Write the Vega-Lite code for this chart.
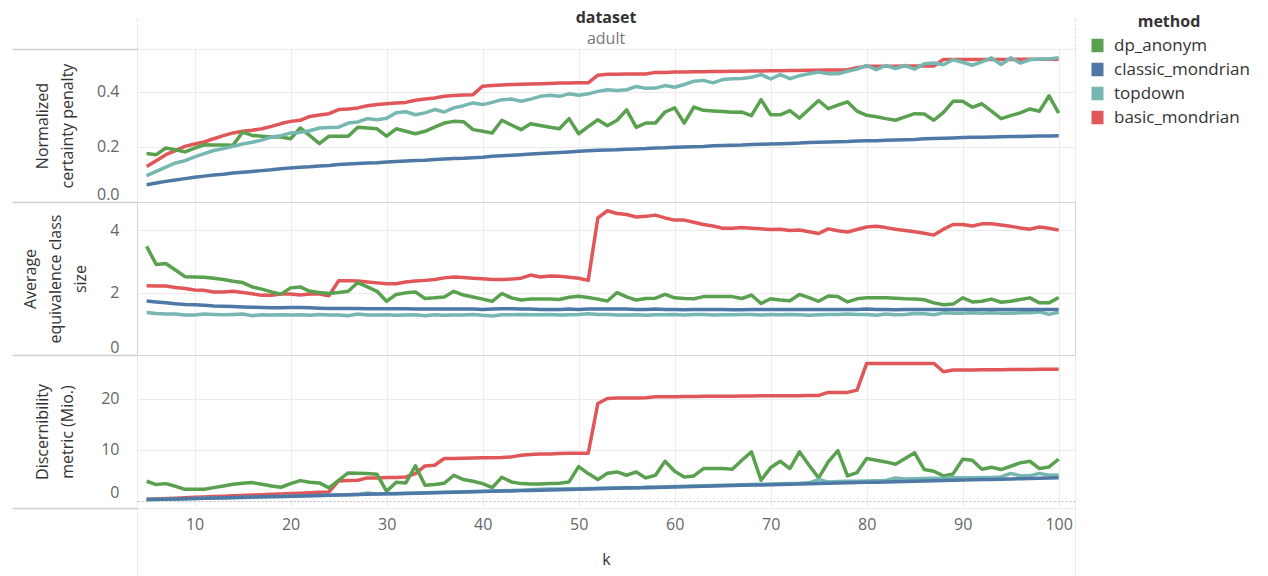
{
  "$schema": "https://vega.github.io/schema/vega-lite/v6.json",
  "padding": {"left": 10, "top": 9, "right": 5, "bottom": 0},
  "bounds": "flush",
  "config": {
    "font": "Open Sans",
    "view": {"stroke": "#d4d4d4", "strokeWidth": 1},
    "axis": {"labelFontSize": 16, "labelColor": "#666666", "titleFontSize": 16, "titleFontWeight": "normal", "titleColor": "#333333", "gridColor": "#ececec", "domain": false},
    "line": {"strokeWidth": 3.5, "strokeJoin": "round"}
  },
  "spacing": 0,
  "data": {"values": [
    {"k":5,"method":"basic_mondrian","ncp":0.129,"aec":2.22,"dm":0.33},
    {"k":6,"method":"basic_mondrian","ncp":0.150,"aec":2.21,"dm":0.40},
    {"k":7,"method":"basic_mondrian","ncp":0.172,"aec":2.21,"dm":0.48},
    {"k":8,"method":"basic_mondrian","ncp":0.187,"aec":2.16,"dm":0.55},
    {"k":9,"method":"basic_mondrian","ncp":0.202,"aec":2.13,"dm":0.63},
    {"k":10,"method":"basic_mondrian","ncp":0.211,"aec":2.08,"dm":0.71},
    {"k":11,"method":"basic_mondrian","ncp":0.218,"aec":2.07,"dm":0.78},
    {"k":12,"method":"basic_mondrian","ncp":0.230,"aec":2.02,"dm":0.86},
    {"k":13,"method":"basic_mondrian","ncp":0.241,"aec":2.02,"dm":0.93},
    {"k":14,"method":"basic_mondrian","ncp":0.251,"aec":2.04,"dm":1.01},
    {"k":15,"method":"basic_mondrian","ncp":0.257,"aec":2.00,"dm":1.08},
    {"k":16,"method":"basic_mondrian","ncp":0.261,"aec":1.96,"dm":1.16},
    {"k":17,"method":"basic_mondrian","ncp":0.266,"aec":1.91,"dm":1.23},
    {"k":18,"method":"basic_mondrian","ncp":0.275,"aec":1.91,"dm":1.31},
    {"k":19,"method":"basic_mondrian","ncp":0.285,"aec":1.95,"dm":1.39},
    {"k":20,"method":"basic_mondrian","ncp":0.293,"aec":1.95,"dm":1.46},
    {"k":21,"method":"basic_mondrian","ncp":0.297,"aec":1.92,"dm":1.54},
    {"k":22,"method":"basic_mondrian","ncp":0.311,"aec":1.95,"dm":1.62},
    {"k":23,"method":"basic_mondrian","ncp":0.316,"aec":1.95,"dm":1.69},
    {"k":24,"method":"basic_mondrian","ncp":0.321,"aec":1.90,"dm":1.77},
    {"k":25,"method":"basic_mondrian","ncp":0.336,"aec":2.38,"dm":3.93},
    {"k":26,"method":"basic_mondrian","ncp":0.338,"aec":2.38,"dm":4.00},
    {"k":27,"method":"basic_mondrian","ncp":0.342,"aec":2.37,"dm":4.06},
    {"k":28,"method":"basic_mondrian","ncp":0.350,"aec":2.34,"dm":4.52},
    {"k":29,"method":"basic_mondrian","ncp":0.354,"aec":2.31,"dm":4.52},
    {"k":30,"method":"basic_mondrian","ncp":0.357,"aec":2.28,"dm":4.58},
    {"k":31,"method":"basic_mondrian","ncp":0.360,"aec":2.28,"dm":4.58},
    {"k":32,"method":"basic_mondrian","ncp":0.362,"aec":2.34,"dm":4.71},
    {"k":33,"method":"basic_mondrian","ncp":0.370,"aec":2.37,"dm":5.36},
    {"k":34,"method":"basic_mondrian","ncp":0.374,"aec":2.39,"dm":6.87},
    {"k":35,"method":"basic_mondrian","ncp":0.378,"aec":2.42,"dm":7.00},
    {"k":36,"method":"basic_mondrian","ncp":0.384,"aec":2.47,"dm":8.31},
    {"k":37,"method":"basic_mondrian","ncp":0.387,"aec":2.50,"dm":8.33},
    {"k":38,"method":"basic_mondrian","ncp":0.389,"aec":2.48,"dm":8.37},
    {"k":39,"method":"basic_mondrian","ncp":0.390,"aec":2.46,"dm":8.40},
    {"k":40,"method":"basic_mondrian","ncp":0.421,"aec":2.44,"dm":8.44},
    {"k":41,"method":"basic_mondrian","ncp":0.423,"aec":2.42,"dm":8.48},
    {"k":42,"method":"basic_mondrian","ncp":0.425,"aec":2.42,"dm":8.52},
    {"k":43,"method":"basic_mondrian","ncp":0.427,"aec":2.43,"dm":8.63},
    {"k":44,"method":"basic_mondrian","ncp":0.428,"aec":2.46,"dm":8.96},
    {"k":45,"method":"basic_mondrian","ncp":0.429,"aec":2.56,"dm":9.09},
    {"k":46,"method":"basic_mondrian","ncp":0.430,"aec":2.50,"dm":9.22},
    {"k":47,"method":"basic_mondrian","ncp":0.431,"aec":2.53,"dm":9.22},
    {"k":48,"method":"basic_mondrian","ncp":0.432,"aec":2.52,"dm":9.30},
    {"k":49,"method":"basic_mondrian","ncp":0.432,"aec":2.49,"dm":9.35},
    {"k":50,"method":"basic_mondrian","ncp":0.433,"aec":2.46,"dm":9.35},
    {"k":51,"method":"basic_mondrian","ncp":0.433,"aec":2.39,"dm":9.35},
    {"k":52,"method":"basic_mondrian","ncp":0.461,"aec":4.39,"dm":19.08},
    {"k":53,"method":"basic_mondrian","ncp":0.464,"aec":4.62,"dm":20.07},
    {"k":54,"method":"basic_mondrian","ncp":0.464,"aec":4.53,"dm":20.15},
    {"k":55,"method":"basic_mondrian","ncp":0.465,"aec":4.50,"dm":20.15},
    {"k":56,"method":"basic_mondrian","ncp":0.465,"aec":4.42,"dm":20.15},
    {"k":57,"method":"basic_mondrian","ncp":0.465,"aec":4.44,"dm":20.20},
    {"k":58,"method":"basic_mondrian","ncp":0.471,"aec":4.48,"dm":20.40},
    {"k":59,"method":"basic_mondrian","ncp":0.471,"aec":4.39,"dm":20.40},
    {"k":60,"method":"basic_mondrian","ncp":0.472,"aec":4.32,"dm":20.42},
    {"k":61,"method":"basic_mondrian","ncp":0.472,"aec":4.32,"dm":20.44},
    {"k":62,"method":"basic_mondrian","ncp":0.473,"aec":4.25,"dm":20.46},
    {"k":63,"method":"basic_mondrian","ncp":0.473,"aec":4.18,"dm":20.48},
    {"k":64,"method":"basic_mondrian","ncp":0.474,"aec":4.13,"dm":20.50},
    {"k":65,"method":"basic_mondrian","ncp":0.474,"aec":4.06,"dm":20.50},
    {"k":66,"method":"basic_mondrian","ncp":0.475,"aec":4.06,"dm":20.52},
    {"k":67,"method":"basic_mondrian","ncp":0.475,"aec":4.08,"dm":20.54},
    {"k":68,"method":"basic_mondrian","ncp":0.476,"aec":4.06,"dm":20.56},
    {"k":69,"method":"basic_mondrian","ncp":0.476,"aec":4.04,"dm":20.58},
    {"k":70,"method":"basic_mondrian","ncp":0.477,"aec":4.02,"dm":20.60},
    {"k":71,"method":"basic_mondrian","ncp":0.477,"aec":4.03,"dm":20.60},
    {"k":72,"method":"basic_mondrian","ncp":0.478,"aec":3.99,"dm":20.62},
    {"k":73,"method":"basic_mondrian","ncp":0.478,"aec":4.00,"dm":20.62},
    {"k":74,"method":"basic_mondrian","ncp":0.479,"aec":3.95,"dm":20.64},
    {"k":75,"method":"basic_mondrian","ncp":0.479,"aec":3.89,"dm":20.66},
    {"k":76,"method":"basic_mondrian","ncp":0.480,"aec":4.04,"dm":21.25},
    {"k":77,"method":"basic_mondrian","ncp":0.480,"aec":3.98,"dm":21.25},
    {"k":78,"method":"basic_mondrian","ncp":0.481,"aec":3.94,"dm":21.25},
    {"k":79,"method":"basic_mondrian","ncp":0.488,"aec":4.02,"dm":21.70},
    {"k":80,"method":"basic_mondrian","ncp":0.493,"aec":4.10,"dm":26.93},
    {"k":81,"method":"basic_mondrian","ncp":0.493,"aec":4.12,"dm":26.93},
    {"k":82,"method":"basic_mondrian","ncp":0.493,"aec":4.08,"dm":26.93},
    {"k":83,"method":"basic_mondrian","ncp":0.493,"aec":4.03,"dm":26.93},
    {"k":84,"method":"basic_mondrian","ncp":0.494,"aec":3.99,"dm":26.93},
    {"k":85,"method":"basic_mondrian","ncp":0.494,"aec":3.95,"dm":26.93},
    {"k":86,"method":"basic_mondrian","ncp":0.494,"aec":3.90,"dm":26.93},
    {"k":87,"method":"basic_mondrian","ncp":0.494,"aec":3.84,"dm":26.93},
    {"k":88,"method":"basic_mondrian","ncp":0.518,"aec":4.03,"dm":25.30},
    {"k":89,"method":"basic_mondrian","ncp":0.518,"aec":4.18,"dm":25.62},
    {"k":90,"method":"basic_mondrian","ncp":0.518,"aec":4.18,"dm":25.64},
    {"k":91,"method":"basic_mondrian","ncp":0.518,"aec":4.13,"dm":25.64},
    {"k":92,"method":"basic_mondrian","ncp":0.518,"aec":4.20,"dm":25.68},
    {"k":93,"method":"basic_mondrian","ncp":0.518,"aec":4.20,"dm":25.70},
    {"k":94,"method":"basic_mondrian","ncp":0.518,"aec":4.16,"dm":25.70},
    {"k":95,"method":"basic_mondrian","ncp":0.518,"aec":4.12,"dm":25.72},
    {"k":96,"method":"basic_mondrian","ncp":0.519,"aec":4.07,"dm":25.72},
    {"k":97,"method":"basic_mondrian","ncp":0.519,"aec":4.03,"dm":25.74},
    {"k":98,"method":"basic_mondrian","ncp":0.519,"aec":4.10,"dm":25.76},
    {"k":99,"method":"basic_mondrian","ncp":0.519,"aec":4.06,"dm":25.76},
    {"k":100,"method":"basic_mondrian","ncp":0.519,"aec":4.00,"dm":25.76},

    {"k":5,"method":"dp_anonym","ncp":0.176,"aec":3.48,"dm":3.86},
    {"k":6,"method":"dp_anonym","ncp":0.172,"aec":2.90,"dm":3.21},
    {"k":7,"method":"dp_anonym","ncp":0.196,"aec":2.93,"dm":3.40},
    {"k":8,"method":"dp_anonym","ncp":0.190,"aec":2.72,"dm":2.88},
    {"k":9,"method":"dp_anonym","ncp":0.182,"aec":2.51,"dm":2.29},
    {"k":10,"method":"dp_anonym","ncp":0.196,"aec":2.50,"dm":2.29},
    {"k":11,"method":"dp_anonym","ncp":0.208,"aec":2.49,"dm":2.29},
    {"k":12,"method":"dp_anonym","ncp":0.207,"aec":2.46,"dm":2.62},
    {"k":13,"method":"dp_anonym","ncp":0.207,"aec":2.42,"dm":2.95},
    {"k":14,"method":"dp_anonym","ncp":0.206,"aec":2.36,"dm":3.27},
    {"k":15,"method":"dp_anonym","ncp":0.254,"aec":2.32,"dm":3.47},
    {"k":16,"method":"dp_anonym","ncp":0.242,"aec":2.18,"dm":3.60},
    {"k":17,"method":"dp_anonym","ncp":0.239,"aec":2.11,"dm":3.27},
    {"k":18,"method":"dp_anonym","ncp":0.236,"aec":2.02,"dm":2.95},
    {"k":19,"method":"dp_anonym","ncp":0.236,"aec":1.95,"dm":2.69},
    {"k":20,"method":"dp_anonym","ncp":0.230,"aec":2.15,"dm":3.40},
    {"k":21,"method":"dp_anonym","ncp":0.269,"aec":2.18,"dm":3.99},
    {"k":22,"method":"dp_anonym","ncp":0.241,"aec":2.04,"dm":3.67},
    {"k":23,"method":"dp_anonym","ncp":0.212,"aec":2.00,"dm":3.54},
    {"k":24,"method":"dp_anonym","ncp":0.239,"aec":1.97,"dm":2.56},
    {"k":25,"method":"dp_anonym","ncp":0.239,"aec":2.00,"dm":4.06},
    {"k":26,"method":"dp_anonym","ncp":0.239,"aec":2.04,"dm":5.50},
    {"k":27,"method":"dp_anonym","ncp":0.272,"aec":2.32,"dm":5.43},
    {"k":28,"method":"dp_anonym","ncp":0.269,"aec":2.18,"dm":5.36},
    {"k":29,"method":"dp_anonym","ncp":0.266,"aec":2.04,"dm":5.23},
    {"k":30,"method":"dp_anonym","ncp":0.239,"aec":1.72,"dm":1.90},
    {"k":31,"method":"dp_anonym","ncp":0.266,"aec":1.94,"dm":3.67},
    {"k":32,"method":"dp_anonym","ncp":0.257,"aec":1.99,"dm":3.54},
    {"k":33,"method":"dp_anonym","ncp":0.248,"aec":2.02,"dm":6.87},
    {"k":34,"method":"dp_anonym","ncp":0.257,"aec":1.81,"dm":3.08},
    {"k":35,"method":"dp_anonym","ncp":0.272,"aec":1.83,"dm":3.21},
    {"k":36,"method":"dp_anonym","ncp":0.287,"aec":1.86,"dm":3.47},
    {"k":37,"method":"dp_anonym","ncp":0.293,"aec":2.04,"dm":5.04},
    {"k":38,"method":"dp_anonym","ncp":0.292,"aec":1.92,"dm":4.19},
    {"k":39,"method":"dp_anonym","ncp":0.263,"aec":1.86,"dm":3.86},
    {"k":40,"method":"dp_anonym","ncp":0.257,"aec":1.79,"dm":3.40},
    {"k":41,"method":"dp_anonym","ncp":0.251,"aec":1.72,"dm":2.62},
    {"k":42,"method":"dp_anonym","ncp":0.297,"aec":1.97,"dm":4.65},
    {"k":43,"method":"dp_anonym","ncp":0.280,"aec":1.83,"dm":3.73},
    {"k":44,"method":"dp_anonym","ncp":0.263,"aec":1.76,"dm":3.40},
    {"k":45,"method":"dp_anonym","ncp":0.284,"aec":1.79,"dm":3.34},
    {"k":46,"method":"dp_anonym","ncp":0.278,"aec":1.79,"dm":3.34},
    {"k":47,"method":"dp_anonym","ncp":0.272,"aec":1.79,"dm":3.40},
    {"k":48,"method":"dp_anonym","ncp":0.266,"aec":1.78,"dm":3.47},
    {"k":49,"method":"dp_anonym","ncp":0.303,"aec":1.85,"dm":3.73},
    {"k":50,"method":"dp_anonym","ncp":0.248,"aec":1.88,"dm":6.74},
    {"k":51,"method":"dp_anonym","ncp":0.274,"aec":1.84,"dm":5.36},
    {"k":52,"method":"dp_anonym","ncp":0.299,"aec":1.79,"dm":4.19},
    {"k":53,"method":"dp_anonym","ncp":0.277,"aec":1.73,"dm":5.43},
    {"k":54,"method":"dp_anonym","ncp":0.297,"aec":2.00,"dm":5.69},
    {"k":55,"method":"dp_anonym","ncp":0.335,"aec":1.86,"dm":5.04},
    {"k":56,"method":"dp_anonym","ncp":0.271,"aec":1.76,"dm":5.69},
    {"k":57,"method":"dp_anonym","ncp":0.287,"aec":1.81,"dm":4.52},
    {"k":58,"method":"dp_anonym","ncp":0.287,"aec":1.82,"dm":5.04},
    {"k":59,"method":"dp_anonym","ncp":0.327,"aec":1.94,"dm":7.78},
    {"k":60,"method":"dp_anonym","ncp":0.342,"aec":1.83,"dm":5.82},
    {"k":61,"method":"dp_anonym","ncp":0.287,"aec":1.81,"dm":4.71},
    {"k":62,"method":"dp_anonym","ncp":0.345,"aec":1.80,"dm":4.91},
    {"k":63,"method":"dp_anonym","ncp":0.333,"aec":1.87,"dm":6.35},
    {"k":64,"method":"dp_anonym","ncp":0.331,"aec":1.87,"dm":6.35},
    {"k":65,"method":"dp_anonym","ncp":0.329,"aec":1.87,"dm":6.35},
    {"k":66,"method":"dp_anonym","ncp":0.326,"aec":1.87,"dm":6.22},
    {"k":67,"method":"dp_anonym","ncp":0.327,"aec":1.81,"dm":7.98},
    {"k":68,"method":"dp_anonym","ncp":0.314,"aec":1.92,"dm":9.61},
    {"k":69,"method":"dp_anonym","ncp":0.372,"aec":1.65,"dm":4.06},
    {"k":70,"method":"dp_anonym","ncp":0.317,"aec":1.80,"dm":6.54},
    {"k":71,"method":"dp_anonym","ncp":0.317,"aec":1.76,"dm":7.78},
    {"k":72,"method":"dp_anonym","ncp":0.332,"aec":1.74,"dm":6.35},
    {"k":73,"method":"dp_anonym","ncp":0.305,"aec":1.94,"dm":9.61},
    {"k":74,"method":"dp_anonym","ncp":0.337,"aec":1.84,"dm":7.00},
    {"k":75,"method":"dp_anonym","ncp":0.369,"aec":1.72,"dm":4.52},
    {"k":76,"method":"dp_anonym","ncp":0.339,"aec":1.89,"dm":7.65},
    {"k":77,"method":"dp_anonym","ncp":0.352,"aec":1.87,"dm":9.87},
    {"k":78,"method":"dp_anonym","ncp":0.364,"aec":1.70,"dm":4.91},
    {"k":79,"method":"dp_anonym","ncp":0.330,"aec":1.80,"dm":5.56},
    {"k":80,"method":"dp_anonym","ncp":0.315,"aec":1.83,"dm":8.31},
    {"k":81,"method":"dp_anonym","ncp":0.310,"aec":1.83,"dm":7.98},
    {"k":82,"method":"dp_anonym","ncp":0.303,"aec":1.83,"dm":7.65},
    {"k":83,"method":"dp_anonym","ncp":0.297,"aec":1.82,"dm":7.19},
    {"k":84,"method":"dp_anonym","ncp":0.309,"aec":1.80,"dm":8.31},
    {"k":85,"method":"dp_anonym","ncp":0.321,"aec":1.79,"dm":9.42},
    {"k":86,"method":"dp_anonym","ncp":0.320,"aec":1.77,"dm":6.15},
    {"k":87,"method":"dp_anonym","ncp":0.297,"aec":1.67,"dm":5.82},
    {"k":88,"method":"dp_anonym","ncp":0.326,"aec":1.61,"dm":4.91},
    {"k":89,"method":"dp_anonym","ncp":0.366,"aec":1.63,"dm":5.30},
    {"k":90,"method":"dp_anonym","ncp":0.366,"aec":1.83,"dm":8.18},
    {"k":91,"method":"dp_anonym","ncp":0.344,"aec":1.70,"dm":7.98},
    {"k":92,"method":"dp_anonym","ncp":0.357,"aec":1.72,"dm":6.22},
    {"k":93,"method":"dp_anonym","ncp":0.330,"aec":1.79,"dm":6.61},
    {"k":94,"method":"dp_anonym","ncp":0.303,"aec":1.69,"dm":6.15},
    {"k":95,"method":"dp_anonym","ncp":0.314,"aec":1.72,"dm":6.80},
    {"k":96,"method":"dp_anonym","ncp":0.324,"aec":1.78,"dm":7.46},
    {"k":97,"method":"dp_anonym","ncp":0.338,"aec":1.83,"dm":7.78},
    {"k":98,"method":"dp_anonym","ncp":0.330,"aec":1.67,"dm":6.35},
    {"k":99,"method":"dp_anonym","ncp":0.386,"aec":1.67,"dm":6.67},
    {"k":100,"method":"dp_anonym","ncp":0.323,"aec":1.84,"dm":8.18},

    {"k":5,"method":"topdown","ncp":0.096,"aec":1.36,"dm":0.25},
    {"k":6,"method":"topdown","ncp":0.111,"aec":1.33,"dm":0.30},
    {"k":7,"method":"topdown","ncp":0.127,"aec":1.31,"dm":0.34},
    {"k":8,"method":"topdown","ncp":0.142,"aec":1.31,"dm":0.39},
    {"k":9,"method":"topdown","ncp":0.150,"aec":1.28,"dm":0.43},
    {"k":10,"method":"topdown","ncp":0.164,"aec":1.28,"dm":0.48},
    {"k":11,"method":"topdown","ncp":0.176,"aec":1.31,"dm":0.52},
    {"k":12,"method":"topdown","ncp":0.187,"aec":1.30,"dm":0.57},
    {"k":13,"method":"topdown","ncp":0.194,"aec":1.29,"dm":0.61},
    {"k":14,"method":"topdown","ncp":0.202,"aec":1.30,"dm":0.66},
    {"k":15,"method":"topdown","ncp":0.211,"aec":1.31,"dm":0.70},
    {"k":16,"method":"topdown","ncp":0.217,"aec":1.26,"dm":0.75},
    {"k":17,"method":"topdown","ncp":0.225,"aec":1.29,"dm":0.79},
    {"k":18,"method":"topdown","ncp":0.236,"aec":1.28,"dm":0.84},
    {"k":19,"method":"topdown","ncp":0.241,"aec":1.29,"dm":0.88},
    {"k":20,"method":"topdown","ncp":0.251,"aec":1.28,"dm":0.93},
    {"k":21,"method":"topdown","ncp":0.253,"aec":1.29,"dm":0.97},
    {"k":22,"method":"topdown","ncp":0.259,"aec":1.27,"dm":1.02},
    {"k":23,"method":"topdown","ncp":0.269,"aec":1.30,"dm":1.06},
    {"k":24,"method":"topdown","ncp":0.271,"aec":1.28,"dm":1.11},
    {"k":25,"method":"topdown","ncp":0.272,"aec":1.28,"dm":1.15},
    {"k":26,"method":"topdown","ncp":0.287,"aec":1.26,"dm":1.20},
    {"k":27,"method":"topdown","ncp":0.291,"aec":1.31,"dm":1.25},
    {"k":28,"method":"topdown","ncp":0.303,"aec":1.28,"dm":1.55},
    {"k":29,"method":"topdown","ncp":0.299,"aec":1.28,"dm":1.38},
    {"k":30,"method":"topdown","ncp":0.304,"aec":1.29,"dm":1.42},
    {"k":31,"method":"topdown","ncp":0.324,"aec":1.27,"dm":1.47},
    {"k":32,"method":"topdown","ncp":0.328,"aec":1.28,"dm":1.52},
    {"k":33,"method":"topdown","ncp":0.317,"aec":1.29,"dm":1.57},
    {"k":34,"method":"topdown","ncp":0.324,"aec":1.26,"dm":1.62},
    {"k":35,"method":"topdown","ncp":0.336,"aec":1.29,"dm":1.66},
    {"k":36,"method":"topdown","ncp":0.327,"aec":1.27,"dm":1.71},
    {"k":37,"method":"topdown","ncp":0.342,"aec":1.28,"dm":1.76},
    {"k":38,"method":"topdown","ncp":0.350,"aec":1.28,"dm":1.81},
    {"k":39,"method":"topdown","ncp":0.360,"aec":1.30,"dm":1.85},
    {"k":40,"method":"topdown","ncp":0.354,"aec":1.27,"dm":1.90},
    {"k":41,"method":"topdown","ncp":0.362,"aec":1.25,"dm":1.94},
    {"k":42,"method":"topdown","ncp":0.372,"aec":1.29,"dm":1.99},
    {"k":43,"method":"topdown","ncp":0.374,"aec":1.29,"dm":2.04},
    {"k":44,"method":"topdown","ncp":0.366,"aec":1.30,"dm":2.10},
    {"k":45,"method":"topdown","ncp":0.374,"aec":1.29,"dm":2.20},
    {"k":46,"method":"topdown","ncp":0.384,"aec":1.29,"dm":2.30},
    {"k":47,"method":"topdown","ncp":0.388,"aec":1.30,"dm":2.33},
    {"k":48,"method":"topdown","ncp":0.384,"aec":1.28,"dm":2.36},
    {"k":49,"method":"topdown","ncp":0.393,"aec":1.29,"dm":2.38},
    {"k":50,"method":"topdown","ncp":0.388,"aec":1.30,"dm":2.42},
    {"k":51,"method":"topdown","ncp":0.393,"aec":1.32,"dm":2.45},
    {"k":52,"method":"topdown","ncp":0.402,"aec":1.30,"dm":2.50},
    {"k":53,"method":"topdown","ncp":0.408,"aec":1.30,"dm":2.54},
    {"k":54,"method":"topdown","ncp":0.405,"aec":1.28,"dm":2.58},
    {"k":55,"method":"topdown","ncp":0.408,"aec":1.28,"dm":2.62},
    {"k":56,"method":"topdown","ncp":0.420,"aec":1.29,"dm":2.52},
    {"k":57,"method":"topdown","ncp":0.413,"aec":1.27,"dm":2.72},
    {"k":58,"method":"topdown","ncp":0.414,"aec":1.29,"dm":2.76},
    {"k":59,"method":"topdown","ncp":0.423,"aec":1.29,"dm":2.80},
    {"k":60,"method":"topdown","ncp":0.417,"aec":1.30,"dm":2.85},
    {"k":61,"method":"topdown","ncp":0.427,"aec":1.28,"dm":2.89},
    {"k":62,"method":"topdown","ncp":0.439,"aec":1.30,"dm":2.94},
    {"k":63,"method":"topdown","ncp":0.442,"aec":1.30,"dm":2.99},
    {"k":64,"method":"topdown","ncp":0.433,"aec":1.28,"dm":3.04},
    {"k":65,"method":"topdown","ncp":0.445,"aec":1.29,"dm":3.08},
    {"k":66,"method":"topdown","ncp":0.448,"aec":1.29,"dm":3.14},
    {"k":67,"method":"topdown","ncp":0.449,"aec":1.30,"dm":3.18},
    {"k":68,"method":"topdown","ncp":0.453,"aec":1.30,"dm":3.23},
    {"k":69,"method":"topdown","ncp":0.463,"aec":1.28,"dm":3.27},
    {"k":70,"method":"topdown","ncp":0.447,"aec":1.30,"dm":3.32},
    {"k":71,"method":"topdown","ncp":0.463,"aec":1.29,"dm":3.38},
    {"k":72,"method":"topdown","ncp":0.448,"aec":1.30,"dm":3.40},
    {"k":73,"method":"topdown","ncp":0.459,"aec":1.29,"dm":3.45},
    {"k":74,"method":"topdown","ncp":0.466,"aec":1.27,"dm":3.55},
    {"k":75,"method":"topdown","ncp":0.472,"aec":1.29,"dm":4.20},
    {"k":76,"method":"topdown","ncp":0.466,"aec":1.30,"dm":3.70},
    {"k":77,"method":"topdown","ncp":0.466,"aec":1.30,"dm":3.80},
    {"k":78,"method":"topdown","ncp":0.475,"aec":1.31,"dm":3.85},
    {"k":79,"method":"topdown","ncp":0.483,"aec":1.30,"dm":3.88},
    {"k":80,"method":"topdown","ncp":0.496,"aec":1.30,"dm":3.92},
    {"k":81,"method":"topdown","ncp":0.481,"aec":1.27,"dm":3.95},
    {"k":82,"method":"topdown","ncp":0.496,"aec":1.31,"dm":4.00},
    {"k":83,"method":"topdown","ncp":0.485,"aec":1.29,"dm":4.50},
    {"k":84,"method":"topdown","ncp":0.496,"aec":1.30,"dm":4.30},
    {"k":85,"method":"topdown","ncp":0.483,"aec":1.33,"dm":4.35},
    {"k":86,"method":"topdown","ncp":0.502,"aec":1.32,"dm":4.40},
    {"k":87,"method":"topdown","ncp":0.505,"aec":1.29,"dm":4.45},
    {"k":88,"method":"topdown","ncp":0.499,"aec":1.35,"dm":4.40},
    {"k":89,"method":"topdown","ncp":0.517,"aec":1.34,"dm":4.55},
    {"k":90,"method":"topdown","ncp":0.508,"aec":1.34,"dm":4.55},
    {"k":91,"method":"topdown","ncp":0.497,"aec":1.35,"dm":4.55},
    {"k":92,"method":"topdown","ncp":0.509,"aec":1.34,"dm":4.60},
    {"k":93,"method":"topdown","ncp":0.524,"aec":1.35,"dm":4.62},
    {"k":94,"method":"topdown","ncp":0.499,"aec":1.34,"dm":4.70},
    {"k":95,"method":"topdown","ncp":0.524,"aec":1.34,"dm":5.40},
    {"k":96,"method":"topdown","ncp":0.505,"aec":1.35,"dm":4.95},
    {"k":97,"method":"topdown","ncp":0.517,"aec":1.35,"dm":4.95},
    {"k":98,"method":"topdown","ncp":0.520,"aec":1.38,"dm":5.40},
    {"k":99,"method":"topdown","ncp":0.520,"aec":1.30,"dm":5.05},
    {"k":100,"method":"topdown","ncp":0.524,"aec":1.37,"dm":5.10},

    {"k":5,"method":"classic_mondrian","ncp":0.063,"aec":1.73,"dm":0.27},
    {"k":6,"method":"classic_mondrian","ncp":0.069,"aec":1.70,"dm":0.32},
    {"k":7,"method":"classic_mondrian","ncp":0.075,"aec":1.67,"dm":0.36},
    {"k":8,"method":"classic_mondrian","ncp":0.080,"aec":1.64,"dm":0.41},
    {"k":9,"method":"classic_mondrian","ncp":0.085,"aec":1.62,"dm":0.45},
    {"k":10,"method":"classic_mondrian","ncp":0.090,"aec":1.61,"dm":0.50},
    {"k":11,"method":"classic_mondrian","ncp":0.094,"aec":1.59,"dm":0.54},
    {"k":12,"method":"classic_mondrian","ncp":0.098,"aec":1.57,"dm":0.59},
    {"k":13,"method":"classic_mondrian","ncp":0.101,"aec":1.56,"dm":0.63},
    {"k":14,"method":"classic_mondrian","ncp":0.105,"aec":1.55,"dm":0.68},
    {"k":15,"method":"classic_mondrian","ncp":0.108,"aec":1.54,"dm":0.72},
    {"k":16,"method":"classic_mondrian","ncp":0.111,"aec":1.53,"dm":0.77},
    {"k":17,"method":"classic_mondrian","ncp":0.114,"aec":1.52,"dm":0.81},
    {"k":18,"method":"classic_mondrian","ncp":0.117,"aec":1.51,"dm":0.86},
    {"k":19,"method":"classic_mondrian","ncp":0.121,"aec":1.51,"dm":0.90},
    {"k":20,"method":"classic_mondrian","ncp":0.124,"aec":1.52,"dm":0.95},
    {"k":21,"method":"classic_mondrian","ncp":0.126,"aec":1.52,"dm":0.99},
    {"k":22,"method":"classic_mondrian","ncp":0.128,"aec":1.51,"dm":1.04},
    {"k":23,"method":"classic_mondrian","ncp":0.131,"aec":1.50,"dm":1.08},
    {"k":24,"method":"classic_mondrian","ncp":0.133,"aec":1.49,"dm":1.13},
    {"k":25,"method":"classic_mondrian","ncp":0.136,"aec":1.49,"dm":1.17},
    {"k":26,"method":"classic_mondrian","ncp":0.138,"aec":1.49,"dm":1.22},
    {"k":27,"method":"classic_mondrian","ncp":0.140,"aec":1.49,"dm":1.26},
    {"k":28,"method":"classic_mondrian","ncp":0.142,"aec":1.48,"dm":1.31},
    {"k":29,"method":"classic_mondrian","ncp":0.143,"aec":1.48,"dm":1.35},
    {"k":30,"method":"classic_mondrian","ncp":0.145,"aec":1.48,"dm":1.40},
    {"k":31,"method":"classic_mondrian","ncp":0.147,"aec":1.48,"dm":1.44},
    {"k":32,"method":"classic_mondrian","ncp":0.149,"aec":1.48,"dm":1.49},
    {"k":33,"method":"classic_mondrian","ncp":0.151,"aec":1.47,"dm":1.53},
    {"k":34,"method":"classic_mondrian","ncp":0.152,"aec":1.47,"dm":1.58},
    {"k":35,"method":"classic_mondrian","ncp":0.154,"aec":1.47,"dm":1.62},
    {"k":36,"method":"classic_mondrian","ncp":0.156,"aec":1.47,"dm":1.67},
    {"k":37,"method":"classic_mondrian","ncp":0.158,"aec":1.47,"dm":1.71},
    {"k":38,"method":"classic_mondrian","ncp":0.159,"aec":1.47,"dm":1.76},
    {"k":39,"method":"classic_mondrian","ncp":0.161,"aec":1.47,"dm":1.80},
    {"k":40,"method":"classic_mondrian","ncp":0.163,"aec":1.46,"dm":1.85},
    {"k":41,"method":"classic_mondrian","ncp":0.166,"aec":1.47,"dm":1.89},
    {"k":42,"method":"classic_mondrian","ncp":0.168,"aec":1.48,"dm":1.94},
    {"k":43,"method":"classic_mondrian","ncp":0.170,"aec":1.48,"dm":1.98},
    {"k":44,"method":"classic_mondrian","ncp":0.172,"aec":1.47,"dm":2.03},
    {"k":45,"method":"classic_mondrian","ncp":0.174,"aec":1.47,"dm":2.07},
    {"k":46,"method":"classic_mondrian","ncp":0.176,"aec":1.46,"dm":2.12},
    {"k":47,"method":"classic_mondrian","ncp":0.178,"aec":1.46,"dm":2.16},
    {"k":48,"method":"classic_mondrian","ncp":0.180,"aec":1.46,"dm":2.21},
    {"k":49,"method":"classic_mondrian","ncp":0.182,"aec":1.47,"dm":2.25},
    {"k":50,"method":"classic_mondrian","ncp":0.184,"aec":1.46,"dm":2.30},
    {"k":51,"method":"classic_mondrian","ncp":0.186,"aec":1.47,"dm":2.34},
    {"k":52,"method":"classic_mondrian","ncp":0.188,"aec":1.47,"dm":2.39},
    {"k":53,"method":"classic_mondrian","ncp":0.189,"aec":1.47,"dm":2.43},
    {"k":54,"method":"classic_mondrian","ncp":0.190,"aec":1.47,"dm":2.48},
    {"k":55,"method":"classic_mondrian","ncp":0.192,"aec":1.47,"dm":2.52},
    {"k":56,"method":"classic_mondrian","ncp":0.193,"aec":1.46,"dm":2.57},
    {"k":57,"method":"classic_mondrian","ncp":0.194,"aec":1.46,"dm":2.61},
    {"k":58,"method":"classic_mondrian","ncp":0.196,"aec":1.47,"dm":2.66},
    {"k":59,"method":"classic_mondrian","ncp":0.197,"aec":1.46,"dm":2.70},
    {"k":60,"method":"classic_mondrian","ncp":0.199,"aec":1.46,"dm":2.75},
    {"k":61,"method":"classic_mondrian","ncp":0.200,"aec":1.45,"dm":2.79},
    {"k":62,"method":"classic_mondrian","ncp":0.201,"aec":1.46,"dm":2.84},
    {"k":63,"method":"classic_mondrian","ncp":0.202,"aec":1.46,"dm":2.88},
    {"k":64,"method":"classic_mondrian","ncp":0.204,"aec":1.46,"dm":2.93},
    {"k":65,"method":"classic_mondrian","ncp":0.205,"aec":1.46,"dm":2.97},
    {"k":66,"method":"classic_mondrian","ncp":0.206,"aec":1.45,"dm":3.02},
    {"k":67,"method":"classic_mondrian","ncp":0.207,"aec":1.45,"dm":3.06},
    {"k":68,"method":"classic_mondrian","ncp":0.209,"aec":1.46,"dm":3.11},
    {"k":69,"method":"classic_mondrian","ncp":0.210,"aec":1.46,"dm":3.15},
    {"k":70,"method":"classic_mondrian","ncp":0.211,"aec":1.46,"dm":3.20},
    {"k":71,"method":"classic_mondrian","ncp":0.212,"aec":1.46,"dm":3.24},
    {"k":72,"method":"classic_mondrian","ncp":0.213,"aec":1.46,"dm":3.29},
    {"k":73,"method":"classic_mondrian","ncp":0.214,"aec":1.46,"dm":3.33},
    {"k":74,"method":"classic_mondrian","ncp":0.216,"aec":1.46,"dm":3.38},
    {"k":75,"method":"classic_mondrian","ncp":0.217,"aec":1.46,"dm":3.42},
    {"k":76,"method":"classic_mondrian","ncp":0.218,"aec":1.46,"dm":3.47},
    {"k":77,"method":"classic_mondrian","ncp":0.219,"aec":1.46,"dm":3.51},
    {"k":78,"method":"classic_mondrian","ncp":0.220,"aec":1.46,"dm":3.56},
    {"k":79,"method":"classic_mondrian","ncp":0.222,"aec":1.46,"dm":3.60},
    {"k":80,"method":"classic_mondrian","ncp":0.223,"aec":1.47,"dm":3.65},
    {"k":81,"method":"classic_mondrian","ncp":0.223,"aec":1.46,"dm":3.69},
    {"k":82,"method":"classic_mondrian","ncp":0.224,"aec":1.46,"dm":3.74},
    {"k":83,"method":"classic_mondrian","ncp":0.225,"aec":1.45,"dm":3.78},
    {"k":84,"method":"classic_mondrian","ncp":0.226,"aec":1.46,"dm":3.83},
    {"k":85,"method":"classic_mondrian","ncp":0.227,"aec":1.46,"dm":3.87},
    {"k":86,"method":"classic_mondrian","ncp":0.230,"aec":1.46,"dm":3.92},
    {"k":87,"method":"classic_mondrian","ncp":0.231,"aec":1.46,"dm":3.96},
    {"k":88,"method":"classic_mondrian","ncp":0.232,"aec":1.46,"dm":4.01},
    {"k":89,"method":"classic_mondrian","ncp":0.233,"aec":1.46,"dm":4.05},
    {"k":90,"method":"classic_mondrian","ncp":0.234,"aec":1.46,"dm":4.10},
    {"k":91,"method":"classic_mondrian","ncp":0.235,"aec":1.46,"dm":4.14},
    {"k":92,"method":"classic_mondrian","ncp":0.235,"aec":1.46,"dm":4.19},
    {"k":93,"method":"classic_mondrian","ncp":0.236,"aec":1.46,"dm":4.23},
    {"k":94,"method":"classic_mondrian","ncp":0.237,"aec":1.46,"dm":4.28},
    {"k":95,"method":"classic_mondrian","ncp":0.238,"aec":1.46,"dm":4.32},
    {"k":96,"method":"classic_mondrian","ncp":0.238,"aec":1.46,"dm":4.37},
    {"k":97,"method":"classic_mondrian","ncp":0.239,"aec":1.46,"dm":4.41},
    {"k":98,"method":"classic_mondrian","ncp":0.240,"aec":1.46,"dm":4.46},
    {"k":99,"method":"classic_mondrian","ncp":0.240,"aec":1.46,"dm":4.50},
    {"k":100,"method":"classic_mondrian","ncp":0.241,"aec":1.46,"dm":4.55}
  ]},
  "vconcat": [
    {
      "width": 938, "height": 153,
      "title": {"text": "dataset", "subtitle": "adult", "frame": "group", "anchor": "middle", "fontSize": 16, "fontWeight": "bold", "color": "#333333", "subtitleFontSize": 16, "subtitleColor": "#777777", "subtitlePadding": 5, "offset": -28},
      "mark": {"type": "line", "strokeWidth": 3.5},
      "encoding": {
        "x": {"field": "k", "type": "quantitative", "scale": {"domain": [4, 101.7], "nice": false, "zero": false},
          "axis": {"orient": "top", "values": [4, 10, 20, 30, 40, 50, 60, 70, 80, 90, 100, 101.7], "labels": false, "title": null, "grid": true,
            "tickSize": 30, "tickDash": [2, 2],
            "tickColor": {"condition": {"test": "datum.value < 5 || datum.value > 101", "value": "#d8d8d8"}, "value": "rgba(0,0,0,0)"}}},
        "y": {"field": "ncp", "type": "quantitative", "scale": {"domain": [0, 0.556], "nice": false},
          "axis": {"values": [0, 0.2, 0.4, 0.556], "labelExpr": "datum.value > 0.5 ? '' : format(datum.value, '.1f')",
            "tickSize": 125, "labelPadding": -107, "tickWidth": 1.5, "labelFlush": 1,
            "tickColor": {"condition": {"test": "datum.value === 0 || datum.value > 0.5", "value": "#d0d0d0"}, "value": "rgba(0,0,0,0)"},
            "title": ["Normalized", "certainty penalty"], "titleX": -95, "titleY": 76.5, "titleAngle": -90, "titleAlign": "center", "titleBaseline": "middle", "titleLineHeight": 25}},
        "color": {"field": "method", "type": "nominal",
          "scale": {"domain": ["dp_anonym", "classic_mondrian", "topdown", "basic_mondrian"], "range": ["#59A14F", "#4E79A7", "#76B7B2", "#E15759"]},
          "legend": {"title": "method", "orient": "none", "legendX": 952, "legendY": -35,
            "symbolType": "M-1,-0.85H1M-1,-0.75H1M-1,-0.65H1M-1,-0.55H1M-1,-0.45H1M-1,-0.35H1M-1,-0.25H1M-1,-0.15H1M-1,-0.05H1M-1,0.05H1M-1,0.15H1M-1,0.25H1M-1,0.35H1M-1,0.45H1M-1,0.55H1M-1,0.65H1M-1,0.75H1M-1,0.85H1",
            "symbolSize": 144,
            "labelFontSize": 17, "labelColor": "#333333", "titleFontSize": 16, "titleColor": "#333333", "titleFontWeight": "bold", "titleAnchor": "middle",
            "rowPadding": 6, "titlePadding": 7, "labelOffset": 8}}
      }
    },
    {
      "width": 938, "height": 153,
      "mark": {"type": "line", "strokeWidth": 3.5},
      "encoding": {
        "x": {"field": "k", "type": "quantitative", "scale": {"domain": [4, 101.7], "nice": false, "zero": false},
          "axis": {"values": [10, 20, 30, 40, 50, 60, 70, 80, 90, 100], "labels": false, "ticks": false, "title": null, "grid": true}},
        "y": {"field": "aec", "type": "quantitative", "scale": {"domain": [0, 4.9], "nice": false},
          "axis": {"values": [0, 2, 4],
            "tickSize": 125, "labelPadding": -107, "tickWidth": 1.5, "labelFlush": 1,
            "tickColor": {"condition": {"test": "datum.value === 0", "value": "#d0d0d0"}, "value": "rgba(0,0,0,0)"},
            "title": ["Average", "equivalence class", "size"], "titleX": -107, "titleY": 76.5, "titleAngle": -90, "titleAlign": "center", "titleBaseline": "middle", "titleLineHeight": 25}},
        "color": {"field": "method", "type": "nominal", "legend": null}
      }
    },
    {
      "width": 938, "height": 153,
      "mark": {"type": "line", "strokeWidth": 3.5},
      "encoding": {
        "x": {"field": "k", "type": "quantitative", "scale": {"domain": [4, 101.7], "nice": false, "zero": false},
          "axis": {"values": [4, 10, 20, 30, 40, 50, 60, 70, 80, 90, 100, 101.7], "labelExpr": "datum.value < 5 || datum.value > 101 ? '' : datum.label",
            "tickSize": 66, "labelPadding": -58, "tickDash": [2, 2],
            "tickColor": {"condition": {"test": "datum.value < 5 || datum.value > 101", "value": "#d8d8d8"}, "value": "rgba(0,0,0,0)"},
            "grid": true, "title": "k", "titleY": 51, "titleBaseline": "middle"}},
        "y": {"field": "dm", "type": "quantitative", "scale": {"domain": [-1.37, 28.57], "nice": false, "zero": false},
          "axis": {"values": [-1.37, 0, 10, 20], "labelExpr": "datum.value < 0 ? '' : datum.label",
            "tickSize": 125, "labelPadding": -107, "tickWidth": 1.5, "labelFlush": 8,
            "tickColor": {"condition": {"test": "datum.value < 0", "value": "#d0d0d0"}, "value": "rgba(0,0,0,0)"},
            "gridColor": {"condition": {"test": "datum.value === 0", "value": "#bdbdbd"}, "value": "#ececec"},
            "gridDash": {"condition": {"test": "datum.value === 0", "value": [2, 2]}, "value": []},
            "title": ["Discernibility", "metric (Mio.)"], "titleX": -95, "titleY": 76.5, "titleAngle": -90, "titleAlign": "center", "titleBaseline": "middle", "titleLineHeight": 25}},
        "color": {"field": "method", "type": "nominal", "legend": null}
      }
    }
  ]
}
